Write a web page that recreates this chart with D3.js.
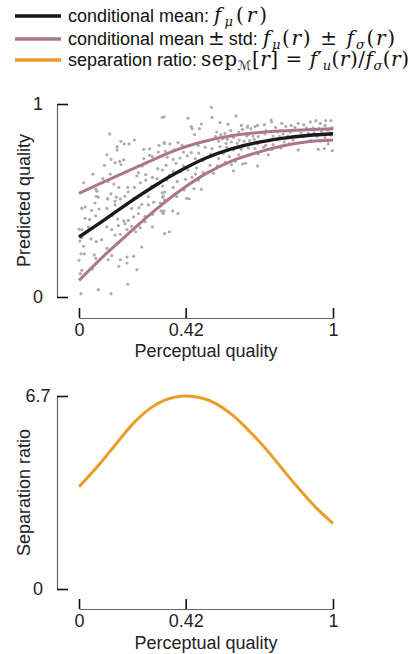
<!DOCTYPE html>
<html><head><meta charset="utf-8">
<script src="https://cdn.jsdelivr.net/npm/d3@7"></script>
<style>
body{margin:0;background:#fff;}
svg{display:block;font-family:"Liberation Sans",Arial,sans-serif;}
</style></head><body>
<svg id="c" width="415" height="654"></svg>
<script>
// ---------- data ----------
const gridR = [0,0.1,0.2,0.3,0.4,0.5,0.6,0.7,0.8,0.9,1];
const meanVals  = [0.311,0.400,0.492,0.578,0.655,0.720,0.767,0.800,0.822,0.837,0.846];
const upperVals = [0.537,0.598,0.657,0.716,0.770,0.808,0.835,0.851,0.861,0.867,0.872];
const lowerVals = [0.086,0.216,0.335,0.450,0.553,0.639,0.704,0.748,0.782,0.804,0.813];

const sepR    = [0,0.083,0.148,0.214,0.280,0.345,0.411,0.476,0.542,0.608,0.673,0.739,0.804,0.870,0.936,1];
const sepVals = [3.55,4.36,5.06,5.75,6.27,6.58,6.70,6.65,6.42,6.01,5.46,4.83,4.13,3.44,2.80,2.28];

const xTicks = [0,0.42,1];
const xTickLabels = ["0","0.42","1"];
const predTicks = [0,1];
const predTickLabels = ["0","1"];
const sepTicks = [0,6.7];
const sepTickLabels = ["0","6.7"];

const scatterPts = [
[0.328,0.931],[0.121,0.845],[0.165,0.807],[0.150,0.779],[0.178,0.793],[0.197,0.793],[0.218,0.813],[0.150,0.762],[0.110,0.737],[0.255,0.765],
[0.278,0.768],[0.315,0.786],[0.336,0.796],[0.126,0.713],[0.142,0.696],[0.160,0.703],[0.176,0.710],[0.165,0.686],[0.100,0.682],[0.255,0.717],
[0.265,0.693],[0.289,0.727],[0.278,0.734],[0.312,0.751],[0.328,0.731],[0.249,0.679],[0.310,0.665],[0.328,0.658],[0.055,0.637],[0.094,0.613],
[0.123,0.637],[0.234,0.644],[0.228,0.627],[0.263,0.634],[0.289,0.620],[0.263,0.606],[0.307,0.613],[0.018,0.592],[0.115,0.599],[0.137,0.585],
[0.157,0.568],[0.192,0.568],[0.218,0.568],[0.241,0.592],[0.286,0.575],[0.066,0.558],[0.071,0.548],[0.126,0.534],[0.194,0.544],[0.147,0.517],
[0.113,0.509],[0.076,0.517],[0.328,0.540],[0.273,0.520],
[0.521,0.983],[0.618,0.938],[0.524,0.931],[0.429,0.927],[0.335,0.934],[0.482,0.896],[0.442,0.883],[0.445,0.872],[0.555,0.903],[0.587,0.896],
[0.639,0.889],[0.663,0.879],[0.455,0.841],[0.474,0.872],[0.542,0.855],[0.558,0.841],[0.574,0.848],[0.597,0.862],[0.629,0.855],[0.644,0.869],
[0.537,0.831],[0.566,0.820],[0.584,0.817],[0.608,0.827],[0.631,0.813],[0.660,0.834],[0.550,0.807],[0.579,0.796],[0.600,0.803],[0.623,0.796],
[0.650,0.807],[0.335,0.800],[0.358,0.793],[0.390,0.800],[0.406,0.786],[0.469,0.786],[0.497,0.776],[0.524,0.769],[0.555,0.779],[0.581,0.776],
[0.608,0.762],[0.639,0.765],[0.340,0.755],[0.374,0.762],[0.411,0.751],[0.442,0.748],[0.471,0.745],[0.518,0.741],[0.568,0.745],[0.592,0.727],
[0.629,0.737],[0.348,0.724],[0.371,0.713],[0.398,0.720],[0.426,0.731],[0.458,0.717],[0.487,0.706],[0.550,0.717],[0.576,0.699],[0.615,0.703],
[0.644,0.689],[0.343,0.682],[0.382,0.693],[0.411,0.679],[0.437,0.682],[0.463,0.668],[0.516,0.682],[0.545,0.679],[0.600,0.686],[0.371,0.651],
[0.400,0.648],[0.429,0.658],[0.458,0.637],[0.489,0.644],[0.529,0.641],[0.608,0.654],[0.356,0.631],[0.345,0.606],[0.387,0.599],[0.419,0.610],
[0.445,0.620],[0.471,0.606],[0.329,0.575],[0.371,0.568],[0.413,0.554],[0.453,0.561],[0.482,0.558],[0.337,0.544],[0.332,0.523],[0.385,0.520],
[0.434,0.509],[0.337,0.503],
[0.756,0.917],[0.730,0.893],[0.759,0.907],[0.798,0.900],[0.835,0.889],[0.863,0.900],[0.885,0.893],[0.911,0.907],[0.932,0.914],[0.950,0.900],
[0.971,0.914],[0.992,0.914],[0.969,0.889],[0.664,0.886],[0.677,0.872],[0.693,0.883],[0.703,0.889],[0.774,0.879],[0.814,0.883],[0.850,0.879],
[0.895,0.876],[0.921,0.876],[0.945,0.872],[0.979,0.865],[0.997,0.876],[0.737,0.862],[0.780,0.855],[0.803,0.845],[0.832,0.855],[0.874,0.851],
[0.903,0.848],[0.926,0.851],[0.955,0.858],[0.989,0.851],[0.667,0.841],[0.685,0.834],[0.706,0.831],[0.732,0.845],[0.764,0.834],[0.790,0.831],
[0.822,0.834],[0.850,0.831],[0.885,0.831],[0.937,0.831],[0.969,0.827],[0.992,0.838],[0.672,0.810],[0.690,0.817],[0.719,0.807],[0.748,0.813],
[0.780,0.817],[0.808,0.803],[0.843,0.813],[0.911,0.810],[0.950,0.807],[0.981,0.807],[0.703,0.793],[0.735,0.786],[0.764,0.789],[0.795,0.782],
[0.827,0.793],[0.856,0.796],[0.981,0.793],[0.667,0.772],[0.693,0.769],[0.727,0.776],[0.759,0.765],[0.795,0.772],[0.863,0.762],[0.942,0.765],
[0.966,0.769],[0.997,0.758],[0.706,0.741],[0.745,0.737],[0.656,0.693],[0.703,0.679],
[0.068,0.522],[0.113,0.508],[0.142,0.497],[0.163,0.508],[0.181,0.522],[0.215,0.511],[0.063,0.487],[0.011,0.459],[0.024,0.466],[0.050,0.449],
[0.079,0.456],[0.110,0.459],[0.142,0.477],[0.181,0.473],[0.207,0.459],[0.236,0.463],[0.247,0.480],[0.273,0.477],[0.294,0.491],[0.320,0.487],
[0.024,0.408],[0.042,0.401],[0.066,0.421],[0.131,0.421],[0.152,0.404],[0.176,0.394],[0.194,0.397],[0.215,0.415],[0.234,0.432],[0.260,0.418],
[0.289,0.428],[0.323,0.446],[0.331,0.432],[0.000,0.352],[0.011,0.349],[0.037,0.363],[0.110,0.363],[0.129,0.349],[0.155,0.370],[0.181,0.380],
[0.207,0.366],[0.234,0.377],[0.260,0.390],[0.003,0.290],[0.011,0.307],[0.018,0.263],[0.047,0.301],[0.068,0.287],[0.089,0.297],[0.110,0.252],
[0.142,0.321],[0.163,0.325],[0.189,0.349],[0.223,0.338],[0.241,0.359],[0.289,0.363],[0.008,0.224],[0.021,0.224],[0.060,0.218],[0.066,0.200],
[0.115,0.193],[0.129,0.214],[0.163,0.193],[0.189,0.207],[0.215,0.211],[0.247,0.259],[0.000,0.190],[0.068,0.176],[0.052,0.145],[0.011,0.138],
[0.005,0.121],[0.157,0.159],[0.189,0.176],[0.228,0.141],[0.192,0.066],[0.008,0.017],[0.076,0.038],[0.126,0.017],
[0.329,0.518],[0.424,0.511],[0.369,0.446],[0.390,0.432],[0.329,0.440],[0.335,0.446],[0.337,0.328],[0.356,0.338]
];

// ---------- styles ----------
const C_MEAN = "#1a1a1a", C_STD = "#ad7690", C_SEP = "#e99c26", C_DOT = "#adadad";
const SANS = '"Liberation Sans", Arial, sans-serif';
const MATH = '"DejaVu Serif", "Liberation Serif", serif';

const svg = d3.select("#c");
svg.append("rect").attr("width",415).attr("height",654).attr("fill","#fff");

// ---------- legend ----------
const fmu = [{t:"f",m:"i"},{t:"μ",m:"i",sub:true},{t:"(",m:"r"},{t:"r",m:"i"},{t:")",m:"r"}];
const fsig = [{t:"f",m:"i"},{t:"σ",m:"i",sub:true},{t:"(",m:"r"},{t:"r",m:"i"},{t:")",m:"r"}];
const legendItems = [
  {color:C_MEAN, y:16, runs:[
    {segs:[{t:"conditional mean:"}]},
    {gap:5, end:267, segs:fmu}]},
  {color:C_STD, y:39, runs:[
    {segs:[{t:"conditional mean"}]},
    {gap:4, segs:[{t:"±",m:"r"}]},
    {gap:4, segs:[{t:"std:"}]},
    {gap:5, end:395, segs:[...fmu,{t:" ± ",m:"r"},...fsig]}]},
  {color:C_SEP, y:60, runs:[
    {segs:[{t:"separation ratio:"}]},
    {gap:4, end:409, segs:[
      {t:"sep",m:"r"},{t:"ℳ",m:"c",sub:true},{t:"[",m:"r"},{t:"r",m:"i"},{t:"] = ",m:"r"},
      {t:"f",m:"i"},{t:"′",m:"r"},{t:"u",m:"i",sub:true},{t:"(",m:"r"},{t:"r",m:"i"},{t:")/",m:"r"},
      ...fsig]}]}
];
const SUB_DY = 4;
const lg = svg.append("g");
legendItems.forEach(it=>{
  lg.append("line").attr("x1",15).attr("x2",61).attr("y1",it.y).attr("y2",it.y)
    .attr("stroke",it.color).attr("stroke-width",3.5);
  let cursor = 68;
  it.runs.forEach(run=>{
    const x0 = cursor + (run.gap||0);
    const t = lg.append("text").attr("x",x0).attr("y",it.y+5.5)
      .attr("font-size",18).attr("fill","#111").style("white-space","pre");
    let shifted = false;
    run.segs.forEach(s=>{
      const sp = t.append("tspan").text(s.t);
      if (s.m){
        sp.attr("font-family", s.m==="c" ? '"DejaVu Sans", sans-serif' : MATH)
          .attr("font-size", s.sub?13:20);
        if (s.m==="i") sp.attr("font-style","italic");
      } else {
        sp.attr("font-family",SANS);
      }
      if (s.sub && !shifted){ sp.attr("dy",SUB_DY); shifted=true; }
      else if (!s.sub && shifted){ sp.attr("dy",-SUB_DY); shifted=false; }
    });
    let w = t.node().getComputedTextLength();
    if (run.end){
      const target = run.end - x0;
      if (target > w) { t.attr("textLength",target).attr("lengthAdjust","spacing"); w = target; }
    }
    cursor = x0 + w;
  });
});

// ---------- top chart ----------
const x1 = d3.scaleLinear().domain([0,1]).range([79,333]);
const y1 = d3.scaleLinear().domain([0,1]).range([297,104]);

function styleAxis(g){
  g.select(".domain").attr("stroke","#666").attr("stroke-width",1.2);
  g.selectAll(".tick line").attr("stroke","#111").attr("stroke-width",1.6);
  g.selectAll(".tick text").attr("font-size",18).attr("font-family",SANS).attr("fill","#222");
}

const gy1 = svg.append("g").attr("transform","translate(57,0)")
  .call(d3.axisLeft(y1).tickValues(predTicks).tickFormat((d,i)=>predTickLabels[i])
    .tickSize(-11).tickSizeOuter(0).tickPadding(19));
styleAxis(gy1);
gy1.selectAll(".tick text").attr("text-anchor","middle").attr("x",-19).attr("dy","0.3em");

const gx1 = svg.append("g").attr("transform","translate(0,318)")
  .call(d3.axisBottom(x1).tickValues(xTicks).tickFormat((d,i)=>xTickLabels[i])
    .tickSize(-10).tickSizeOuter(0).tickPadding(5));
styleAxis(gx1);

svg.append("g").selectAll("circle").data(scatterPts).join("circle")
  .attr("cx",d=>x1(d[0])).attr("cy",d=>y1(d[1])).attr("r",1.6).attr("fill",C_DOT);

const line1 = d3.line().x((d,i)=>x1(gridR[i])).y(d=>y1(d)).curve(d3.curveCatmullRom);
svg.append("path").attr("d",line1(upperVals)).attr("fill","none").attr("stroke",C_STD).attr("stroke-width",3);
svg.append("path").attr("d",line1(lowerVals)).attr("fill","none").attr("stroke",C_STD).attr("stroke-width",3);
svg.append("path").attr("d",line1(meanVals)).attr("fill","none").attr("stroke",C_MEAN).attr("stroke-width",3.4);

svg.append("text").attr("transform","translate(30,200.5) rotate(-90)").attr("text-anchor","middle")
  .attr("font-size",18).attr("fill","#222").text("Predicted quality");
svg.append("text").attr("x",206).attr("y",357).attr("text-anchor","middle")
  .attr("font-size",18).attr("fill","#222").text("Perceptual quality");

// ---------- bottom chart ----------
const x2 = d3.scaleLinear().domain([0,1]).range([79,333]);
const y2 = d3.scaleLinear().domain([0,6.7]).range([589,396]);

const gy2 = svg.append("g").attr("transform","translate(57,0)")
  .call(d3.axisLeft(y2).tickValues(sepTicks).tickFormat((d,i)=>sepTickLabels[i])
    .tickSize(-11).tickSizeOuter(0).tickPadding(19));
styleAxis(gy2);
gy2.selectAll(".tick text").attr("text-anchor","middle").attr("x",-19).attr("dy","0.3em");

const gx2 = svg.append("g").attr("transform","translate(0,609)")
  .call(d3.axisBottom(x2).tickValues(xTicks).tickFormat((d,i)=>xTickLabels[i])
    .tickSize(-10).tickSizeOuter(0).tickPadding(5));
styleAxis(gx2);

const line2 = d3.line().x((d,i)=>x2(sepR[i])).y(d=>y2(d)).curve(d3.curveCatmullRom);
svg.append("path").attr("d",line2(sepVals)).attr("fill","none").attr("stroke",C_SEP).attr("stroke-width",3);

svg.append("text").attr("transform","translate(30,492.5) rotate(-90)").attr("text-anchor","middle")
  .attr("font-size",18).attr("fill","#222").text("Separation ratio");
svg.append("text").attr("x",206).attr("y",649).attr("text-anchor","middle")
  .attr("font-size",18).attr("fill","#222").text("Perceptual quality");
</script>
</body></html>
